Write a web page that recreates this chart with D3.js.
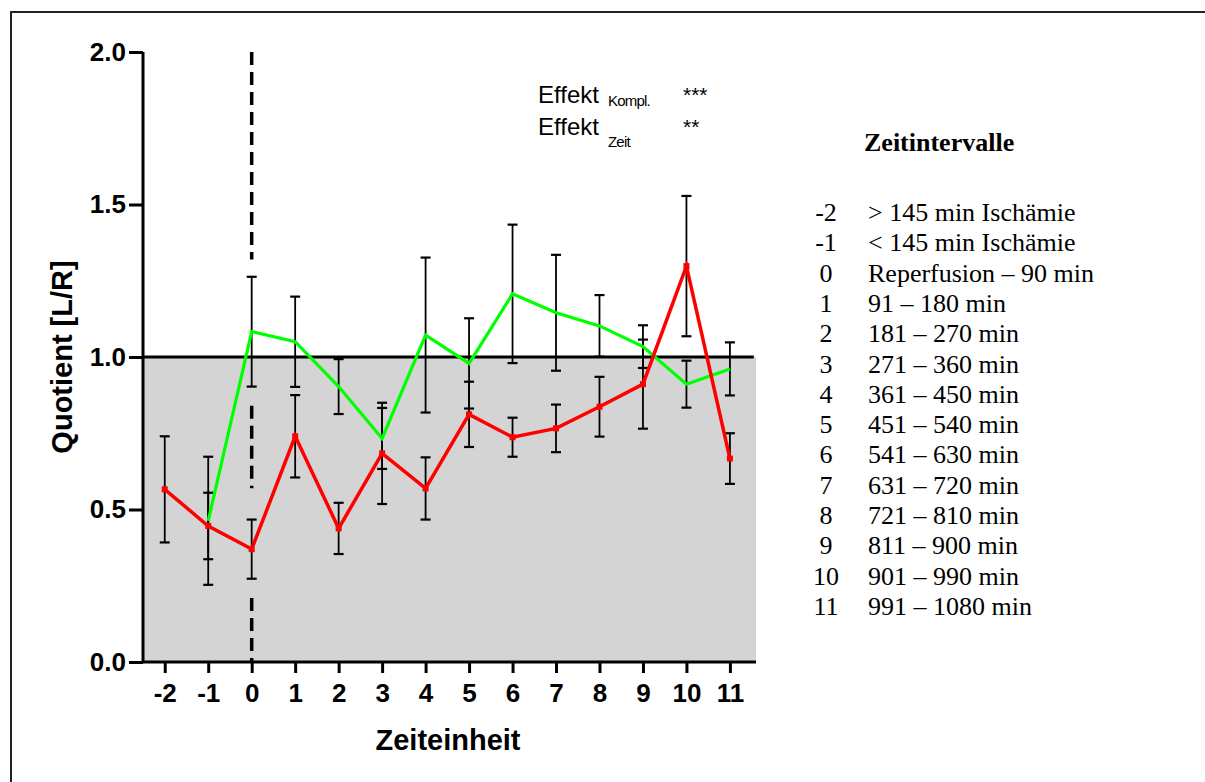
<!DOCTYPE html>
<html>
<head>
<meta charset="utf-8">
<script src="https://cdn.jsdelivr.net/npm/d3@7"></script>
<style>
  body { margin: 0; background: #fff; }
  svg { display: block; }
</style>
</head>
<body>
<div id="chart"></div>
<script>
// Zeiteinheiten
var zeit = [-2, -1, 0, 1, 2, 3, 4, 5, 6, 7, 8, 9, 10, 11];

// grüne Kurve (Mittelwert, Fehler)
var gruenWert = [null, 0.463, 1.083, 1.050, 0.903, 0.733, 1.072, 0.979, 1.207, 1.145, 1.102, 1.034, 0.911, 0.961];
var gruenFehler = [null, 0.21, 0.18, 0.148, 0.09, 0.10, 0.254, 0.148, 0.227, 0.19, 0.101, 0.07, 0.077, 0.087];

// rote Kurve (Mittelwert, Fehler)
var rotWert = [0.566, 0.446, 0.370, 0.740, 0.438, 0.684, 0.569, 0.812, 0.737, 0.766, 0.837, 0.911, 1.298, 0.667];
var rotFehler = [0.174, 0.109, 0.097, 0.135, 0.084, 0.166, 0.102, 0.107, 0.064, 0.078, 0.098, 0.146, 0.23, 0.083];

var yTicks = [0.0, 0.5, 1.0, 1.5, 2.0];
var referenzWert = 1.0;
// gestrichelte Linie bei Reperfusion (Zeit 0), Abschnitte in Datenwerten
var reperfusionAbschnitte = [[2.0, 1.32], [0.84, 0.57], [0.21, 0.0]];

var legendeNr = ["-2", "-1", "0", "1", "2", "3", "4", "5", "6", "7", "8", "9", "10", "11"];
var legendeText = ["> 145 min Ischämie", "< 145 min Ischämie", "Reperfusion \u2013 90 min",
  "91 \u2013 180 min", "181 \u2013 270 min", "271 \u2013 360 min", "361 \u2013 450 min",
  "451 \u2013 540 min", "541 \u2013 630 min", "631 \u2013 720 min", "721 \u2013 810 min",
  "811 \u2013 900 min", "901 \u2013 990 min", "991 \u2013 1080 min"];

var width = 1205, height = 782;

var svg = d3.select("#chart")
  .append("svg")
  .attr("width", width)
  .attr("height", height);

// Rahmen (nur links und oben sichtbar)
svg.append("rect")
  .attr("x", 11).attr("y", 12)
  .attr("width", 1400).attr("height", 1000)
  .attr("fill", "none")
  .attr("stroke", "#222")
  .attr("stroke-width", 2);

var x = d3.scaleLinear().domain([-2.5, 11.6]).range([143, 756]);
var y = d3.scaleLinear().domain([0, 2]).range([662, 52]);

// grauer Bereich unter 1.0
svg.append("rect")
  .attr("x", x(-2.5))
  .attr("y", y(referenzWert))
  .attr("width", x(11.6) - x(-2.5))
  .attr("height", y(0) - y(referenzWert))
  .attr("fill", "#d4d4d4");

// Linie bei 1.0
svg.append("line")
  .attr("x1", x(-2.5)).attr("x2", x(11.55))
  .attr("y1", y(referenzWert)).attr("y2", y(referenzWert))
  .attr("stroke", "black")
  .attr("stroke-width", 3);

// gestrichelte Linie bei Zeit 0
svg.selectAll(".reperfusion")
  .data(reperfusionAbschnitte)
  .enter().append("line")
  .attr("class", "reperfusion")
  .attr("x1", x(0)).attr("x2", x(0))
  .attr("y1", function(d) { return y(d[0]); })
  .attr("y2", function(d) { return y(d[1]); })
  .attr("stroke", "black")
  .attr("stroke-width", 3.5)
  .attr("stroke-dasharray", "13,7");

function fehlerbalken(werte, fehler) {
  var daten = zeit.map(function(t, i) {
    return { t: t, v: werte[i], e: fehler[i] };
  }).filter(function(d) { return d.v !== null; });

  var g = svg.append("g");
  g.selectAll(".eb")
    .data(daten)
    .enter().append("line")
    .attr("x1", function(d) { return x(d.t); })
    .attr("x2", function(d) { return x(d.t); })
    .attr("y1", function(d) { return y(d.v + d.e); })
    .attr("y2", function(d) { return y(d.v - d.e); })
    .attr("stroke", "black")
    .attr("stroke-width", 1.8);

  [1, -1].forEach(function(s) {
    g.selectAll(".cap" + s)
      .data(daten)
      .enter().append("line")
      .attr("x1", function(d) { return x(d.t) - 5; })
      .attr("x2", function(d) { return x(d.t) + 5; })
      .attr("y1", function(d) { return y(d.v + s * d.e); })
      .attr("y2", function(d) { return y(d.v + s * d.e); })
      .attr("stroke", "black")
      .attr("stroke-width", 2.2);
  });
  return daten;
}

var gruenDaten = fehlerbalken(gruenWert, gruenFehler);
var rotDaten = fehlerbalken(rotWert, rotFehler);

var linie = d3.line()
  .x(function(d) { return x(d.t); })
  .y(function(d) { return y(d.v); });

svg.append("path")
  .datum(gruenDaten)
  .attr("d", linie)
  .attr("fill", "none")
  .attr("stroke", "#00ff00")
  .attr("stroke-width", 3.2);

svg.append("path")
  .datum(rotDaten)
  .attr("d", linie)
  .attr("fill", "none")
  .attr("stroke", "#ff0000")
  .attr("stroke-width", 3.5);

svg.selectAll(".punkt")
  .data(rotDaten)
  .enter().append("rect")
  .attr("class", "punkt")
  .attr("x", function(d) { return x(d.t) - 3; })
  .attr("y", function(d) { return y(d.v) - 3; })
  .attr("width", 6).attr("height", 6)
  .attr("fill", "#ff0000");

// Achsen
var xAchse = svg.append("g")
  .attr("transform", "translate(0," + y(0) + ")")
  .call(d3.axisBottom(x).tickValues(zeit)
    .tickFormat(function(d) { return String(d); })
    .tickSize(11).tickPadding(11));

var yAchse = svg.append("g")
  .attr("transform", "translate(" + x(-2.5) + ",0)")
  .call(d3.axisLeft(y).tickValues(yTicks).tickFormat(d3.format(".1f")).tickSize(14).tickPadding(3));

[xAchse, yAchse].forEach(function(a) {
  a.select(".domain").attr("stroke", "black").attr("stroke-width", 3);
  a.selectAll(".tick line").attr("stroke", "black").attr("stroke-width", 3);
  a.selectAll(".tick text")
    .attr("fill", "black")
    .attr("font-family", "'Liberation Sans', Arial, sans-serif")
    .attr("font-weight", "bold")
    .attr("font-size", "26px");
});
xAchse.select(".domain").attr("d", "M" + x(-2.5) + ",0H" + x(11.6));
yAchse.select(".domain").attr("d", "M0," + y(2) + "V" + y(0));

// Achsentitel
svg.append("text")
  .attr("x", 448).attr("y", 750)
  .attr("text-anchor", "middle")
  .attr("font-family", "'Liberation Sans', Arial, sans-serif")
  .attr("font-weight", "bold")
  .attr("font-size", "29px")
  .text("Zeiteinheit");

svg.append("text")
  .attr("transform", "translate(72,357)rotate(-90)")
  .attr("text-anchor", "middle")
  .attr("font-family", "'Liberation Sans', Arial, sans-serif")
  .attr("font-weight", "bold")
  .attr("font-size", "29px")
  .text("Quotient [L/R]");

// Effekte
var effekte = [
  { sub: "Kompl.", stern: "***", y: 103, subY: 106 },
  { sub: "Zeit", stern: "**", y: 135, subY: 147 }
];
effekte.forEach(function(e) {
  svg.append("text")
    .attr("x", 538).attr("y", e.y)
    .attr("font-family", "'Liberation Sans', Arial, sans-serif")
    .attr("font-size", "24px")
    .text("Effekt");
  svg.append("text")
    .attr("x", 608).attr("y", e.subY)
    .attr("font-family", "'Liberation Sans', Arial, sans-serif")
    .attr("font-size", "15px")
    .attr("letter-spacing", "-0.8")
    .text(e.sub);
  svg.append("text")
    .attr("x", 683).attr("y", e.y - 1)
    .attr("font-family", "'Liberation Sans', Arial, sans-serif")
    .attr("font-size", "21px")
    .text(e.stern);
});

// Legende Zeitintervalle
svg.append("text")
  .attr("x", 864).attr("y", 151)
  .attr("font-family", "'Liberation Serif', 'Times New Roman', serif")
  .attr("font-weight", "bold")
  .attr("font-size", "26px")
  .text("Zeitintervalle");

var legende = svg.append("g")
  .attr("font-family", "'Liberation Serif', 'Times New Roman', serif")
  .attr("font-size", "26px");

legende.selectAll(".nr")
  .data(legendeNr)
  .enter().append("text")
  .attr("x", 826)
  .attr("y", function(d, i) { return 221 + i * 30.3; })
  .attr("text-anchor", "middle")
  .text(function(d) { return d; });

legende.selectAll(".txt")
  .data(legendeText)
  .enter().append("text")
  .attr("x", 868)
  .attr("y", function(d, i) { return 221 + i * 30.3; })
  .text(function(d) { return d; });
</script>
</body>
</html>
